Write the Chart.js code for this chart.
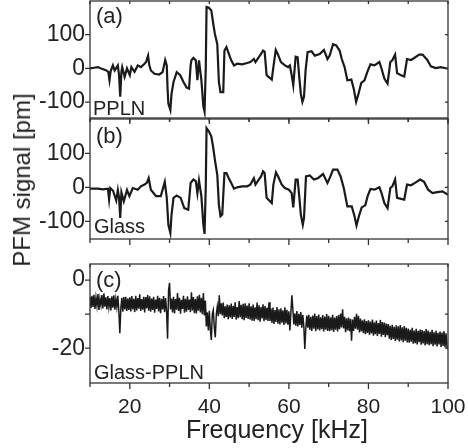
<!DOCTYPE html>
<html>
<head>
<meta charset="utf-8">
<script src="https://cdn.jsdelivr.net/npm/chart.js@4"></script>
<style>
  body { margin: 0; background: #fff; }
  #wrap { position: relative; width: 468px; height: 448px; overflow: hidden;
          font-family: "Liberation Sans", Arial, sans-serif; color: #222; }
  canvas { position: absolute; left: 0; }
  .lbl { position: absolute; line-height: 1; white-space: nowrap; }
</style>
</head>
<body>
<div id="wrap">
  <canvas id="cA" width="468" height="125" style="top:0"></canvas>
  <canvas id="cB" width="468" height="135" style="top:110px"></canvas>
  <canvas id="cC" width="468" height="198" style="top:250px"></canvas>

  <div class="lbl" style="left:96px; top:5px; font-size:22px">(a)</div>
  <div class="lbl" style="left:93px; top:98px; font-size:20px">PPLN</div>
  <div class="lbl" style="left:96px; top:125px; font-size:22px">(b)</div>
  <div class="lbl" style="left:94px; top:216px; font-size:20px">Glass</div>
  <div class="lbl" style="left:96px; top:269px; font-size:22px">(c)</div>
  <div class="lbl" style="left:94px; top:362px; font-size:20px">Glass-PPLN</div>

  <div class="lbl" style="left:277px; top:417px; font-size:25px; transform:translateX(-50%)">Frequency [kHz]</div>
  <div class="lbl" style="left:22px; top:180px; font-size:24px; transform:translate(-50%,-50%) rotate(-90deg)">PFM signal [pm]</div>
</div>

<script>
// ---------- data (kHz, pm) ----------
// (a) PPLN
const freqA = [10,11,12,12.8,13.5,14,14.6,14.9,15.2,15.75,16.2,17,17.3,17.6,17.9,18.1,18.7,19.3,20,20.4,
  21.2,22,22.8,23.7,24.1,24.6,24.9,25.3,26.2,27.4,28.25,28.9,29.3,29.5,29.7,30.2,30.5,31,31.8,32.7,
  33.5,34.3,34.9,35.3,35.5,36,36.6,37,37.4,38,38.5,38.8,39.1,39.3,39.9,40.5,41,41.4,42,42.4,
  42.8,43.5,43.8,44.3,44.9,45.5,46.2,47,48.25,49.5,50.3,51.2,51.6,52.4,53,53.5,53.9,54.4,55.7,56.1,
  56.7,57.2,58,59,59.8,60.25,60.7,61.1,61.7,62.2,62.6,63,63.4,63.8,64.2,64.7,65.7,66.5,67.75,68.8,
  69.7,70.25,71.1,71.9,72.75,73.3,74,74.7,75.7,76.3,76.9,77.5,78.2,79,79.7,80.5,81.5,82.75,83.3,84,
  84.8,85.5,86,86.7,87.2,88.2,89,89.7,90.7,91.5,92.75,93.6,94.8,95.7,96.9,98.2,100];
const pfmA = [0,2,4,0,-3,-5,-10,-35,-8,9,-6,9,-20,-84,-10,4,-25,0,-20,4,
  -10,9,4,14,19,38,10,-6,-16,-18,-11,25,9,-60,-104,-123,-75,-40,-11,-20,
  -40,-57,-60,10,24,31,24,-35,24,-35,-113,-128,0,182,180,172,131,102,72,-40,
  -70,-70,53,63,43,24,9,14,12,16,19,28,19,33,43,53,50,-20,-33,4,
  55,43,19,9,4,9,-20,-50,35,33,-25,-75,-99,-84,-6,48,51,38,43,55,
  28,38,72,68,53,28,4,-35,-33,-60,-99,-75,-43,-35,-11,12,9,19,-1,-30,
  -45,19,24,41,-14,-20,-24,28,25,31,41,41,25,6,1,4,-1];

// (b) Glass
const freqB = [10,12,13.2,14.5,14.8,15.1,15.8,16.6,17,17.3,17.6,17.9,18.5,19.3,19.9,20.75,22,22.8,23.7,24.3,
  24.75,25.3,26.6,27.8,28.8,29.3,29.7,30.2,30.5,31,31.8,32.8,33.7,34.7,35.3,36,36.6,37,37.4,38,
  38.5,38.8,39.1,39.3,39.9,40.5,41,41.4,42,42.4,42.8,43.25,43.8,44.3,44.9,45.5,46.2,47,48.25,49.5,
  50.3,51.2,51.6,52.4,53,53.5,53.9,54.4,55.7,56.1,56.75,57.3,58.2,59,60,60.7,61.1,61.7,62.2,62.6,
  63,63.5,63.8,64.3,65.25,66.3,67.3,68.6,69.7,70.25,71.1,72.2,73,73.8,74.7,75.8,76.5,77,77.6,78.3,
  79.2,79.8,80.5,81.5,82.75,83.3,84,84.8,85.5,86,86.7,87.2,88.2,89,89.7,90.7,91.7,93,94,95,
  96.1,97.3,98.6,100];
const pfmB = [-4,-4,-6,-4,-36,-2,-10,-39,-8,-30,-90,-15,-41,-8,-26,-2,-7,3,8,13,
  27,-7,-26,-26,16,-31,-110,-134,-80,-31,-24,-31,-61,-66,13,23,18,-17,20,-26,
  -110,-137,0,174,164,150,115,81,37,-51,-85,-80,42,42,27,13,-4,0,3,3,
  8,27,8,22,32,47,42,-31,-46,8,44,32,8,-2,-7,-17,-59,23,23,-26,
  -80,-110,-90,32,35,23,27,39,13,27,52,52,32,-2,-56,-56,-85,-112,-85,-59,
  -53,-26,-5,-7,0,-17,-46,-61,-2,3,23,-31,-34,-36,8,6,13,23,16,-7,
  -17,-14,-12,-22];

// (c) Glass-PPLN, one value every 0.25 kHz from 10 kHz (one row = 5 kHz)
const cStart = 10, cStep = 0.25;
const pfmC = [
  -5.0,-8.2,-4.6,-7.9,-4.3,-8.5,-5.2,-7.6,-4.1,-8.8,-5.5,-7.4,-4.4,-8.3,-3.9,-7.8,-5.1,-8.6,-4.7,-7.9,
  -5.3,-8.9,-4.8,-8.1,-4.5,-8.7,-5.6,-7.9,-4.6,-9.0,-15.6,-8.4,-5.2,-9.3,-5.0,-8.6,-4.9,-9.1,-5.4,-8.8,
  -5.1,-9.2,-4.7,-8.6,-5.5,-9.4,-4.6,-8.9,-5.3,-8.4,-4.2,-9.1,-5.6,-8.7,-4.9,-9.5,-5.0,-8.3,-4.4,-9.0,
  -4.8,-9.3,-5.4,-8.8,-4.9,-9.6,-5.7,-8.5,-4.6,-9.2,-5.2,-9.7,-5.5,-8.6,-4.7,-9.4,-5.3,-9.0,-17.2,-3.0,
  -0.8,-8.6,-5.4,-9.5,-4.9,-9.8,-5.6,-8.7,-3.8,-9.1,-5.2,-9.9,-5.8,-8.5,-4.6,-9.6,-5.5,-9.3,-4.8,-8.8,
  -5.7,-9.4,-3.6,-8.9,-5.0,-9.7,-5.6,-9.8,-4.8,-9.0,-4.3,-9.5,-5.2,-10.0,-3.8,-10.4,-6.0,-13.6,-9.5,-14.8,
  -9.0,-14.5,-17.6,-10.0,-8.8,-13.9,-16.8,-10.2,-7.8,-10.6,-4.5,-10.0,-6.8,-10.4,-6.6,-11.2,-7.7,-10.8,-7.2,-11.5,
  -7.4,-11.0,-6.9,-11.4,-7.6,-10.8,-6.5,-11.6,-7.9,-11.2,-6.2,-10.9,-7.3,-11.5,-7.0,-11.8,-6.8,-11.1,-7.5,-11.4,
  -6.8,-11.6,-7.7,-11.9,-7.2,-12.0,-8.0,-11.5,-6.6,-11.8,-7.4,-12.2,-7.9,-11.3,-7.1,-12.1,-7.6,-11.7,-8.1,-12.0,
  -6.5,-12.0,-8.4,-12.6,-8.1,-12.9,-8.8,-12.3,-7.9,-12.8,-8.6,-13.0,-8.3,-12.5,-8.9,-13.2,-8.0,-12.7,-8.7,-13.1,
  -9.2,-14.8,-9.5,-4.5,-8.6,-13.0,-9.8,-13.4,-9.1,-13.6,-9.9,-13.2,-9.4,-14.0,-10.2,-13.5,-20.2,-14.2,-10.4,-14.0,
  -10.2,-14.6,-10.8,-14.9,-10.4,-14.3,-9.8,-15.0,-10.6,-14.5,-10.1,-14.8,-10.9,-14.4,-10.3,-15.1,-10.7,-14.6,-10.0,-14.9,
  -10.5,-15.0,-10.9,-14.7,-10.2,-15.2,-11.0,-14.6,-10.6,-15.1,-10.3,-14.4,-9.8,-13.9,-8.6,-14.2,-10.8,-15.3,-11.2,-14.8,
  -11.0,-15.0,-11.4,-17.8,-11.6,-14.9,-10.8,-14.3,-9.9,-14.6,-10.5,-15.4,-11.3,-15.1,-11.8,-15.6,-11.5,-15.9,-12.0,-15.5,
  -11.8,-16.0,-12.2,-15.7,-11.6,-16.3,-12.4,-15.9,-11.9,-16.4,-12.6,-15.8,-11.7,-16.6,-12.3,-16.1,-12.5,-16.8,-12.8,-16.2,
  -12.9,-17.2,-13.4,-17.6,-13.1,-17.3,-13.7,-17.9,-13.3,-17.5,-13.6,-18.0,-13.2,-17.7,-13.9,-18.2,-13.5,-17.8,-14.0,-18.3,
  -14.2,-18.4,-14.6,-18.1,-14.0,-18.7,-14.8,-18.5,-14.3,-18.9,-14.9,-18.2,-14.5,-19.0,-14.7,-18.6,-15.0,-19.2,-14.4,-18.8,
  -14.8,-19.1,-15.2,-18.8,-14.6,-19.4,-15.3,-19.0,-14.9,-19.5,-15.5,-18.9,-15.1,-19.6,-15.4,-19.3,-15.0,-19.8,-15.6,-19.7,
  -20.3];

// ticks
const xLabels = [20, 40, 60, 80, 100];
const xTicks = [10, 20, 30, 40, 50, 60, 70, 80, 90, 100];
const yLabelsAB = [-100, 0, 100];
const yLabelsC = [-20, 0];
const yTicksC = [-20, -10, 0];

const FONT = '"Liberation Sans", Arial, sans-serif';
const INK = '#1a1a1a';

// ================= frame + ticks on all sides =================
const frame = {
  id: 'frame',
  afterDraw(chart, args, opts) {
    const { ctx, chartArea: a } = chart;
    const x = chart.scales.x, y = chart.scales.y;
    ctx.save();
    ctx.strokeStyle = '#333';
    ctx.lineWidth = 1.3;
    ctx.strokeRect(a.left, a.top, a.right - a.left, a.bottom - a.top);
    ctx.beginPath();
    xTicks.forEach(v => {
      const px = x.getPixelForValue(v);
      const len = xLabels.includes(v) ? 6 : 4;
      ctx.moveTo(px, a.bottom); ctx.lineTo(px, a.bottom + len);
      ctx.moveTo(px, a.top); ctx.lineTo(px, a.top + 3);
    });
    opts.yTicks.forEach(v => {
      const py = y.getPixelForValue(v);
      ctx.moveTo(a.left - 5, py); ctx.lineTo(a.left, py);
      ctx.moveTo(a.right, py); ctx.lineTo(a.right - 3, py);
    });
    ctx.stroke();
    ctx.restore();
  }
};

function makeChart(id, points, yMin, yMax, yLabels, yTicks, pad, lineW, showX) {
  return new Chart(document.getElementById(id), {
    type: 'line',
    data: {
      datasets: [{
        data: points,
        borderColor: INK,
        borderWidth: lineW,
        pointRadius: 0,
        tension: 0,
        fill: false
      }]
    },
    options: {
      responsive: false,
      animation: false,
      devicePixelRatio: 1,
      layout: { padding: { left: 0, right: 20, top: pad.top, bottom: pad.bottom } },
      plugins: { legend: { display: false }, tooltip: { enabled: false }, frame: { yTicks } },
      scales: {
        x: {
          type: 'linear', min: 10, max: 100,
          afterBuildTicks: s => { s.ticks = xLabels.map(v => ({ value: v })); },
          ticks: { display: showX, color: '#222', font: { family: FONT, size: 21 }, padding: 12, maxRotation: 0 },
          grid: { display: false, drawTicks: false },
          border: { display: false },
          afterFit: s => { s.height = showX ? 40 : 0; s.paddingLeft = 0; s.paddingRight = 0; }
        },
        y: {
          type: 'linear', min: yMin, max: yMax,
          afterBuildTicks: s => { s.ticks = yLabels.map(v => ({ value: v })); },
          ticks: { color: '#222', font: { family: FONT, size: 23 }, padding: 5 },
          grid: { display: false, drawTicks: false },
          border: { display: false },
          afterFit: s => { s.width = 90; s.paddingTop = 0; s.paddingBottom = 0; }
        }
      }
    },
    plugins: [frame]
  });
}

const ptsA = freqA.map((f, i) => ({ x: f, y: pfmA[i] }));
const ptsB = freqB.map((f, i) => ({ x: f, y: pfmB[i] }));
const ptsC = pfmC.map((v, i) => ({ x: cStart + i * cStep, y: v }));

makeChart('cA', ptsA, -147, 200, yLabelsAB, yLabelsAB, { top: 1, bottom: 7 }, 2.2, false);
makeChart('cB', ptsB, -152, 201, yLabelsAB, yLabelsAB, { top: 9, bottom: 6 }, 2.2, false);
makeChart('cC', ptsC, -30.2, 4.7, yLabelsC, yTicksC, { top: 14, bottom: 25 }, 1.5, true);
</script>
</body>
</html>
